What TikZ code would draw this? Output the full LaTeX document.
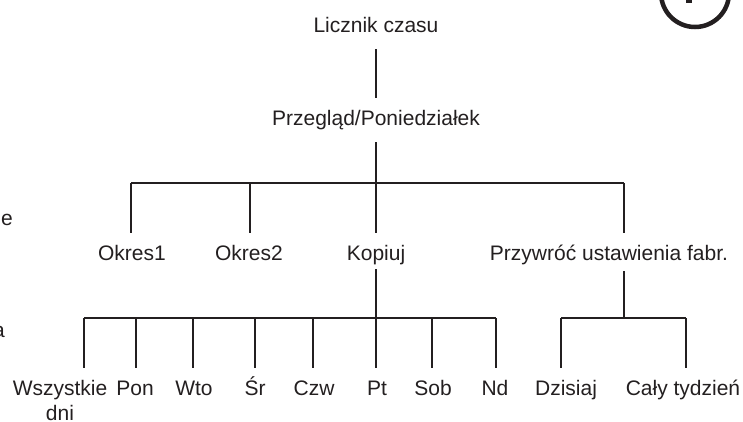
\documentclass[tikz,border=0pt]{standalone}
\usepackage{fontspec}
\setmainfont{Liberation Sans}
\definecolor{ink}{HTML}{231F20}
\begin{document}
\begin{tikzpicture}[x=1pt,y=-1pt,
  lbl/.style={font=\fontsize{21}{26}\selectfont, text=ink, inner xsep=0pt, inner ysep=12pt,
              text height=15pt, text depth=5pt, anchor=base},
  ln/.style={draw=ink, line width=2.9pt}]
\useasboundingbox (0,0) rectangle (743,421);

% clipped fragments
\node[lbl, inner sep=0pt, anchor=base east] (fe) at (13,225) {e};
\node[lbl, inner sep=0pt, anchor=base east] (fa) at (5,337) {a};
\draw[ink, line width=4.5pt] (695,-7) circle[radius=34];
\fill[ink] (686,-5) rectangle (692,3);

% labels
\node[lbl] (licz) at (376,32) {Licznik czasu};
\node[lbl] (prz)  at (376,125) {Przegląd/Poniedziałek};
\node[lbl] (ok1)  at (132,260) {Okres1};
\node[lbl] (ok2)  at (249,260) {Okres2};
\node[lbl] (kop)  at (376,260) {Kopiuj};
\node[lbl] (przy) at (609,260) {Przywróć ustawienia fabr.};
\node[lbl] (wsz)  at (60,395) {\begin{tabular}[t]{@{}c@{}}Wszystkie\\[-1pt]dni\end{tabular}};
\node[lbl] (pon)  at (135,395) {Pon};
\node[lbl] (wto)  at (194,395) {Wto};
\node[lbl] (sr)   at (255,395) {Śr};
\node[lbl] (czw)  at (314,395) {Czw};
\node[lbl] (pt)   at (377,395) {Pt};
\node[lbl] (sob)  at (433,395) {Sob};
\node[lbl] (nd)   at (495,395) {Nd};
\node[lbl] (dzi)  at (566,395) {Dzisiaj};
\node[lbl] (cal)  at (683,395) {Cały tydzień};

% junctions
\coordinate (b1) at (376,183);
\coordinate (b1l) at (131,183);
\coordinate (b1r) at (624,183);
\coordinate (j2) at (250,183);
\coordinate (b2) at (376,318);
\coordinate (b2l) at (84,318);
\coordinate (b2r) at (496,318);
\coordinate (k2) at (136,318);
\coordinate (k3) at (193,318);
\coordinate (k4) at (255,318);
\coordinate (k5) at (313,318);
\coordinate (b3) at (624,318);
\coordinate (b3l) at (561,318);
\coordinate (b3r) at (686,318);

% connectors
\draw[ln] (licz.south) -- (prz.north);
\draw[ln] (prz.south) -- (b1);
\draw[ln] (b1l) -- (b1r);
\draw[ln] (b1l) -- (b1l |- ok1.north);
\draw[ln] (j2) -- (j2 |- ok2.north);
\draw[ln] (b1) -- (kop.north);
\draw[ln] (b1r) -- (b1r |- przy.north);

\draw[ln] ([yshift=8pt]kop.south) -- (b2);
\draw[ln] (b2l) -- (b2r);
\draw[ln] (b2l) -- (b2l |- wsz.north);
\draw[ln] (k2) -- (k2 |- pon.north);
\draw[ln] (k3) -- (k3 |- wto.north);
\draw[ln] (k4) -- (k4 |- sr.north);
\draw[ln] (k5) -- (k5 |- czw.north);
\draw[ln] (b2) -- (b2 |- pt.north);
\draw[ln] ([xshift=-1pt]sob.north |- b2) -- ([xshift=-1pt]sob.north);
\draw[ln] (b2r) -- (b2r |- nd.north);

\draw[ln] ([yshift=6pt]przy.south -| b3) -- (b3);
\draw[ln] (b3l) -- (b3r);
\draw[ln] (b3l) -- (b3l |- dzi.north);
\draw[ln] (b3r) -- (b3r |- cal.north);
\end{tikzpicture}
\end{document}
